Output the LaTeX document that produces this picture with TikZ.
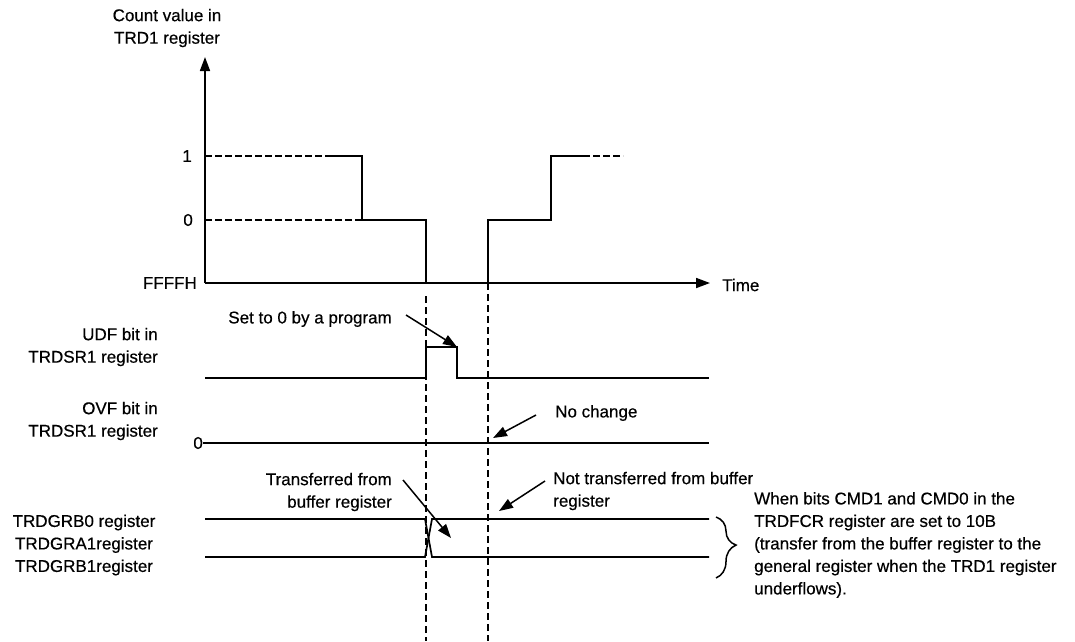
\documentclass[tikz,border=0pt]{standalone}
\usepackage{fontspec}
\setmainfont{Liberation Sans}[BoldFont=Liberation Sans, BoldFeatures={FakeBold=0.5}]
\usetikzlibrary{arrows.meta,decorations.pathreplacing}
\begin{document}
\begin{tikzpicture}[x=1pt,y=-1pt,
  every node/.style={font=\fontsize{17}{22.5}\selectfont\bfseries, inner sep=0pt},
  sig/.style={line width=1.7pt},
  dsig/.style={line width=1.9pt, dash pattern=on 6.5pt off 3.5pt},
  guide/.style={line width=2.4pt, dash pattern=on 7pt off 4pt},
  axisarrow/.style={line width=1.7pt,-{Triangle[length=14pt,width=10pt]}},
  ann/.style={line width=1.5pt,-{Triangle[length=14pt,width=10pt]}}]
\useasboundingbox (0,0) rectangle (1075,641);

% axis labels
\node[align=center] (ylab) at (167,28) {Count value in\\TRD1 register};
\node[anchor=east] (l1) at (192,156) {1};
\node[anchor=east] (l0) at (193,220) {0};
\node[anchor=east] (lf) at (197,283) {FFFFH};
\node[anchor=west] (time) at (722,285) {Time};

% axes
\coordinate (org) at (205,283);
\coordinate (ytop) at (205,57);
\coordinate (xend) at (710,283);
\draw[axisarrow] (org) -- (ytop);
\draw[axisarrow] (org) -- (xend);

% count waveform
\draw[dsig] (205,156) -- (332,156);
\draw[dsig] (205,220) -- (362,220);
\draw[sig] (332,156) -- (362,156) -- (362,220) -- (426,220) -- (426,283) -- (488,283) -- (488,220) -- (551,220) -- (551,156) -- (583,156);
\draw[dsig] (583,156) -- (623,156);

% guide lines
\draw[guide] (426,296) -- (426,641);
\draw[guide] (488,283) -- (488,641);

% UDF
\node[anchor=east, align=right] (udf) at (158,347) {UDF bit in\\TRDSR1 register};
\draw[sig] (205,378) -- (426,378) -- (426,347) -- (457,347) -- (457,378) -- (709,378);
\node[anchor=east] (setlbl) at (392,319) {Set to 0 by a program};
\coordinate (setS) at (406,315);
\coordinate (setT) at (457,347);
\draw[ann] (setS) -- (setT);

% OVF
\node[anchor=east, align=right] (ovf) at (158,421) {OVF bit in\\TRDSR1 register};
\node[anchor=east] (ovf0) at (203,443) {0};
\draw[sig] (ovf0.east) -- (709,443);
\node[anchor=west] (nochg) at (555,413) {No change};
\coordinate (ncS) at (536,415);
\coordinate (ncT) at (493,438);
\draw[ann] (ncS) -- (ncT);

% TRDGR registers
\node[align=center] (regs) at (84,545) {TRDGRB0 register\\TRDGRA1register\\TRDGRB1register};
\draw[sig] (205,519) -- (425,519) -- (432,557) -- (709,557);
\draw[sig] (205,557) -- (425,557) -- (432,519) -- (709,519);
\node[anchor=east, align=right] (trf) at (392,492) {Transferred from\\buffer register};
\coordinate (trS) at (403,480);
\coordinate (trT) at (451,538);
\draw[ann] (trS) -- (trT);
\node[anchor=west, align=left] (ntrf) at (553,491) {Not transferred from buffer\\register};
\coordinate (ntS) at (545,481);
\coordinate (ntT) at (499,511);
\draw[ann] (ntS) -- (ntT);

% brace and note
\draw[line width=1.5pt, decorate, decoration={brace, amplitude=20pt, aspect=0.46}] (716,517) -- (716,578);
\node[anchor=west, align=left] (note) at (754,545) {When bits CMD1 and CMD0 in the\\TRDFCR register are set to 10B\\(transfer from the buffer register to the\\general register when the TRD1 register\\underflows).};
\end{tikzpicture}
\end{document}
